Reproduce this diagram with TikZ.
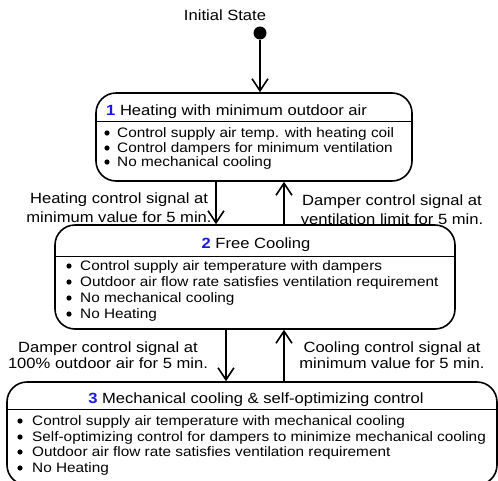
\documentclass[tikz,border=0pt]{standalone}
\usepackage{fontspec}
\setmainfont{Liberation Sans}[FakeStretch=1.12]
\usetikzlibrary{arrows.meta}
\definecolor{numblue}{RGB}{25,25,230}

\begin{document}
\begin{tikzpicture}[x=1pt, y=-1pt,
  state/.style={draw, line width=1.6pt, rounded corners=20pt, inner sep=0pt},
  arr/.style={line width=1.6pt, -{Straight Barb[length=12pt,width=16pt]}},
  ttl/.style={font=\fontsize{14.8}{17}\selectfont, anchor=base, inner sep=0pt},
  item/.style={font=\fontsize{13.7}{15}\selectfont, anchor=base west, inner sep=0pt},
  lbl/.style={font=\fontsize{14.8}{18.5}\selectfont, align=center, inner sep=0pt}]
\useasboundingbox (0,0) rectangle (498,480);
\clip (0,0) rectangle (498,480);

% Initial state
\node[ttl] (init) at (225,20) {Initial State};
\node[circle, fill, inner sep=0pt, minimum size=13pt] (start) at (260,33) {};

% State boxes
\node[state, minimum width=316pt, minimum height=88pt] (heat) at (254,137) {};
\node[state, minimum width=400pt, minimum height=104pt] (free) at (255,277) {};
\node[state, minimum width=490pt, minimum height=103pt] (mech) at (252,433.5) {};
\draw[line width=0.8pt] (heat.west |- 0,121) -- (heat.east |- 0,121);
\draw[line width=0.8pt] (free.west |- 0,256) -- (free.east |- 0,256);
\draw[line width=0.8pt] (mech.west |- 0,409) -- (mech.east |- 0,409);

% Titles
\node[ttl, anchor=base west] (heatT) at (106,115.5) {{\color{numblue}\bfseries 1} Heating with minimum outdoor air};
\node[ttl] (freeT) at (256,248.5) {{\color{numblue}\bfseries 2} Free Cooling};
\node[ttl] (mechT) at (256,403.5) {{\color{numblue}\bfseries 3} Mechanical cooling \& self-optimizing control};

% Bullet items
\foreach \y/\txt [count=\i] in {132/Control supply air temp. with heating coil,
    147/Control dampers for minimum ventilation, 161/No mechanical cooling}
  {\fill (107,\y+1) circle (2.6pt);
   \node[item] (heat\i) at (117,\y+5) {\txt};}
\foreach \y/\txt [count=\i] in {265/Control supply air temperature with dampers,
    281/Outdoor air flow rate satisfies ventilation requirement,
    297/No mechanical cooling, 313/No Heating}
  {\fill (69,\y+1) circle (2.6pt);
   \node[item] (free\i) at (80,\y+5) {\txt};}
\foreach \y/\txt [count=\i] in {420/Control supply air temperature with mechanical cooling,
    436/Self-optimizing control for dampers to minimize mechanical cooling,
    451/Outdoor air flow rate satisfies ventilation requirement, 467/No Heating}
  {\fill (20,\y+1) circle (2.6pt);
   \node[item] (mech\i) at (32,\y+5) {\txt};}

% Transitions
\draw[arr] (start) -- (heat.north -| start);
\draw[arr] (heat.south -| 216,0) -- (free.north -| 216,0);
\draw[arr] (free.north -| 284,0) -- (heat.south -| 284,0);
\draw[arr] (free.south -| 226,0) -- (mech.north -| 226,0);
\draw[arr] (mech.north -| 284,0) -- (free.south -| 284,0);

% Labels
\node[lbl] (heatfree) at (119,207.5) {Heating control signal at\\minimum value for 5 min.};
\node[lbl] (freeheat) at (392,209.5) {Damper control signal at\\ventilation limit for 5 min.};
\node[lbl, font=\fontsize{14.8}{16}\selectfont] (freemech) at (108,355) {Damper control signal at\\100\% outdoor air for 5 min.};
\node[lbl, font=\fontsize{14.8}{16}\selectfont] (mechfree) at (392,355) {Cooling control signal at\\minimum value for 5 min.};
\end{tikzpicture}
\end{document}
